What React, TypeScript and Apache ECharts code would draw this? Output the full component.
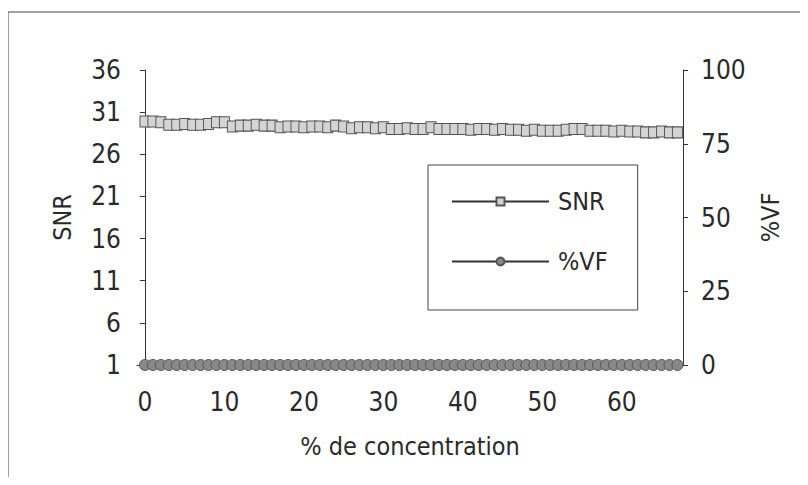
import React, { useEffect, useRef } from "react";
import * as echarts from "echarts";

const xValues = [
  0, 1, 2, 3, 4, 5, 6, 7, 8, 9, 10, 11, 12, 13, 14, 15, 16, 17, 18, 19, 20, 21, 22, 23,
  24, 25, 26, 27, 28, 29, 30, 31, 32, 33, 34, 35, 36, 37, 38, 39, 40, 41, 42, 43, 44, 45,
  46, 47, 48, 49, 50, 51, 52, 53, 54, 55, 56, 57, 58, 59, 60, 61, 62, 63, 64, 65, 66, 67,
];
const snrValues = [
  29.9, 29.9, 29.8, 29.5, 29.5, 29.6, 29.5, 29.5, 29.6, 29.8, 29.8, 29.3, 29.4, 29.4, 29.5,
  29.4, 29.4, 29.2, 29.3, 29.3, 29.2, 29.3, 29.3, 29.2, 29.4, 29.3, 29.1, 29.2, 29.2, 29.1,
  29.2, 29.0, 29.0, 29.1, 29.0, 29.0, 29.2, 29.0, 29.0, 29.0, 29.0, 28.9, 29.0, 29.0, 28.9,
  29.0, 28.9, 28.9, 28.8, 28.9, 28.8, 28.8, 28.8, 28.9, 29.0, 29.0, 28.8, 28.8, 28.8, 28.7,
  28.8, 28.7, 28.7, 28.6, 28.6, 28.7, 28.6, 28.6,
];
const vfValues = [
  0, 0, 0, 0, 0, 0, 0, 0, 0, 0, 0, 0, 0, 0, 0, 0, 0, 0, 0, 0, 0, 0, 0, 0, 0, 0, 0, 0, 0, 0,
  0, 0, 0, 0, 0, 0, 0, 0, 0, 0, 0, 0, 0, 0, 0, 0, 0, 0, 0, 0, 0, 0, 0, 0, 0, 0, 0, 0, 0, 0,
  0, 0, 0, 0, 0, 0, 0, 0,
];
const xTickLabels = [0, 10, 20, 30, 40, 50, 60];

const FONT = "'Liberation Sans Narrow', 'DejaVu Sans Condensed', 'Liberation Sans', sans-serif";
const TEXT = "#2a2a2a";

export default function App() {
  const ref = useRef<HTMLDivElement>(null);
  useEffect(() => {
    if (!ref.current) return;
    const chart = echarts.init(ref.current, null, { renderer: "svg" });
    chart.setOption({
      animation: false,
      backgroundColor: "#fff",
      textStyle: { fontFamily: FONT },
      graphic: [
        {
          type: "rect",
          shape: { x: 8, y: 12, width: 820, height: 500 },
          style: { fill: "none", stroke: "#444", lineWidth: 1 },
          silent: true,
          z: -1,
        },
      ],
      grid: { left: 137, right: 125, top: 70, bottom: 120, containLabel: false },
      legend: {
        orient: "vertical",
        left: 428,
        top: 165,
        padding: [24, 30, 36, 23],
        itemGap: 35,
        itemWidth: 97,
        itemHeight: 10,
        borderColor: "#444",
        borderWidth: 1,
        textStyle: { fontFamily: FONT, fontSize: 25, color: TEXT, padding: [0, 0, 0, 4] },
        data: ["SNR", "%VF"],
      },
      xAxis: {
        type: "value",
        min: -1,
        max: 67.7,
        name: "% de concentration",
        nameLocation: "middle",
        nameGap: 69,
        nameTextStyle: { fontFamily: FONT, fontSize: 25, color: TEXT },
        axisLine: { show: true, lineStyle: { color: "#333" } },
        axisTick: { show: false },
        splitLine: { show: false },
        axisLabel: {
          customValues: xTickLabels,
          fontFamily: FONT,
          fontSize: 26,
          color: TEXT,
          margin: 24,
        },
      },
      yAxis: [
        {
          type: "value",
          min: 1,
          max: 36,
          interval: 5,
          name: "SNR",
          nameLocation: "middle",
          nameGap: 62,
          nameRotate: 90,
          nameTextStyle: { fontFamily: FONT, fontSize: 25, color: TEXT },
          axisLine: { show: true, lineStyle: { color: "#333" } },
          axisTick: { show: true, length: 5, lineStyle: { color: "#333" } },
          splitLine: { show: false },
          axisLabel: { fontFamily: FONT, fontSize: 26, color: TEXT, margin: 16 },
        },
        {
          type: "value",
          min: 0,
          max: 100,
          interval: 25,
          name: "%VF",
          nameLocation: "middle",
          nameGap: 75,
          nameRotate: 90,
          nameTextStyle: { fontFamily: FONT, fontSize: 25, color: TEXT },
          axisLine: { show: true, lineStyle: { color: "#333" } },
          axisTick: { show: true, length: 5, lineStyle: { color: "#333" } },
          splitLine: { show: false },
          axisLabel: { fontFamily: FONT, fontSize: 26, color: TEXT, margin: 18 },
        },
      ],
      series: [
        {
          name: "SNR",
          type: "line",
          yAxisIndex: 0,
          data: xValues.map((x, i) => [x, snrValues[i]]),
          symbol: "rect",
          symbolSize: [10, 11],
          showAllSymbol: true,
          lineStyle: { color: "#333", width: 1 },
          itemStyle: { color: "#d4d4d4", borderColor: "#555", borderWidth: 1 },
          z: 3,
        },
        {
          name: "%VF",
          type: "line",
          yAxisIndex: 1,
          data: xValues.map((x, i) => [x, vfValues[i]]),
          symbol: "circle",
          symbolSize: 11,
          showAllSymbol: true,
          lineStyle: { color: "#333", width: 1 },
          itemStyle: { color: "#888", borderColor: "#555", borderWidth: 1 },
          z: 4,
        },
      ],
    });
    return () => chart.dispose();
  }, []);
  return <div ref={ref} style={{ width: 808, height: 485, margin: -8 }} />;
}
